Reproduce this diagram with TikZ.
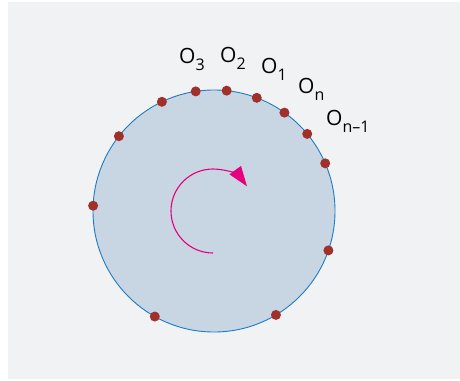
\documentclass[tikz,border=0pt]{standalone}
\usepackage{fontspec}
\setmainfont{Open Sans}
\usetikzlibrary{arrows.meta,calc}
\definecolor{panel}{HTML}{F1F2F4}
\definecolor{disk}{HTML}{C8D5E3}
\definecolor{rim}{HTML}{1F7CC4}
\definecolor{dotred}{HTML}{A0302A}
\definecolor{mag}{HTML}{E6007E}
\newcommand\Osub[1]{O\raisebox{-7pt}{\fontsize{16pt}{16pt}\selectfont #1}}
\tikzset{
  pt/.style={circle,fill=dotred,inner sep=0pt,minimum size=10pt},
  lab/.style={anchor=base west,inner sep=0pt,font=\fontsize{21pt}{21pt}\selectfont}
}
\begin{document}
\begin{tikzpicture}[x=1pt,y=-1pt]
\useasboundingbox (0,0) rectangle (460,380);
\fill[white] (0,0) rectangle (460,380);
\fill[panel] (8,2) rectangle (460,379);
\coordinate (c) at (214,211);
\draw[rim,fill=disk,line width=0.9pt] (c) circle[radius=121];
\foreach \a [count=\i] in {98.7,84,69.3,54.4,39.6,23.2,-19,-59.2,-119.3,177.5,141.8,115.5}
  \node[pt] (d\i) at ($(c)+(\a:121 and -121)$) {};
\draw[mag,line width=1.1pt,-{Triangle[length=20pt,width=14pt]}] (213,253) arc[start angle=90,end angle=324,radius=42];
\node[lab] (o3) at (179,63) {\Osub{3}};
\node[lab] (o2) at (220,62) {\Osub{2}};
\node[lab] (o1) at (261,73) {\Osub{1}};
\node[lab] (on) at (298,93) {\Osub{n}};
\node[lab] (om) at (326,125) {\Osub{n–1}};
\end{tikzpicture}
\end{document}
